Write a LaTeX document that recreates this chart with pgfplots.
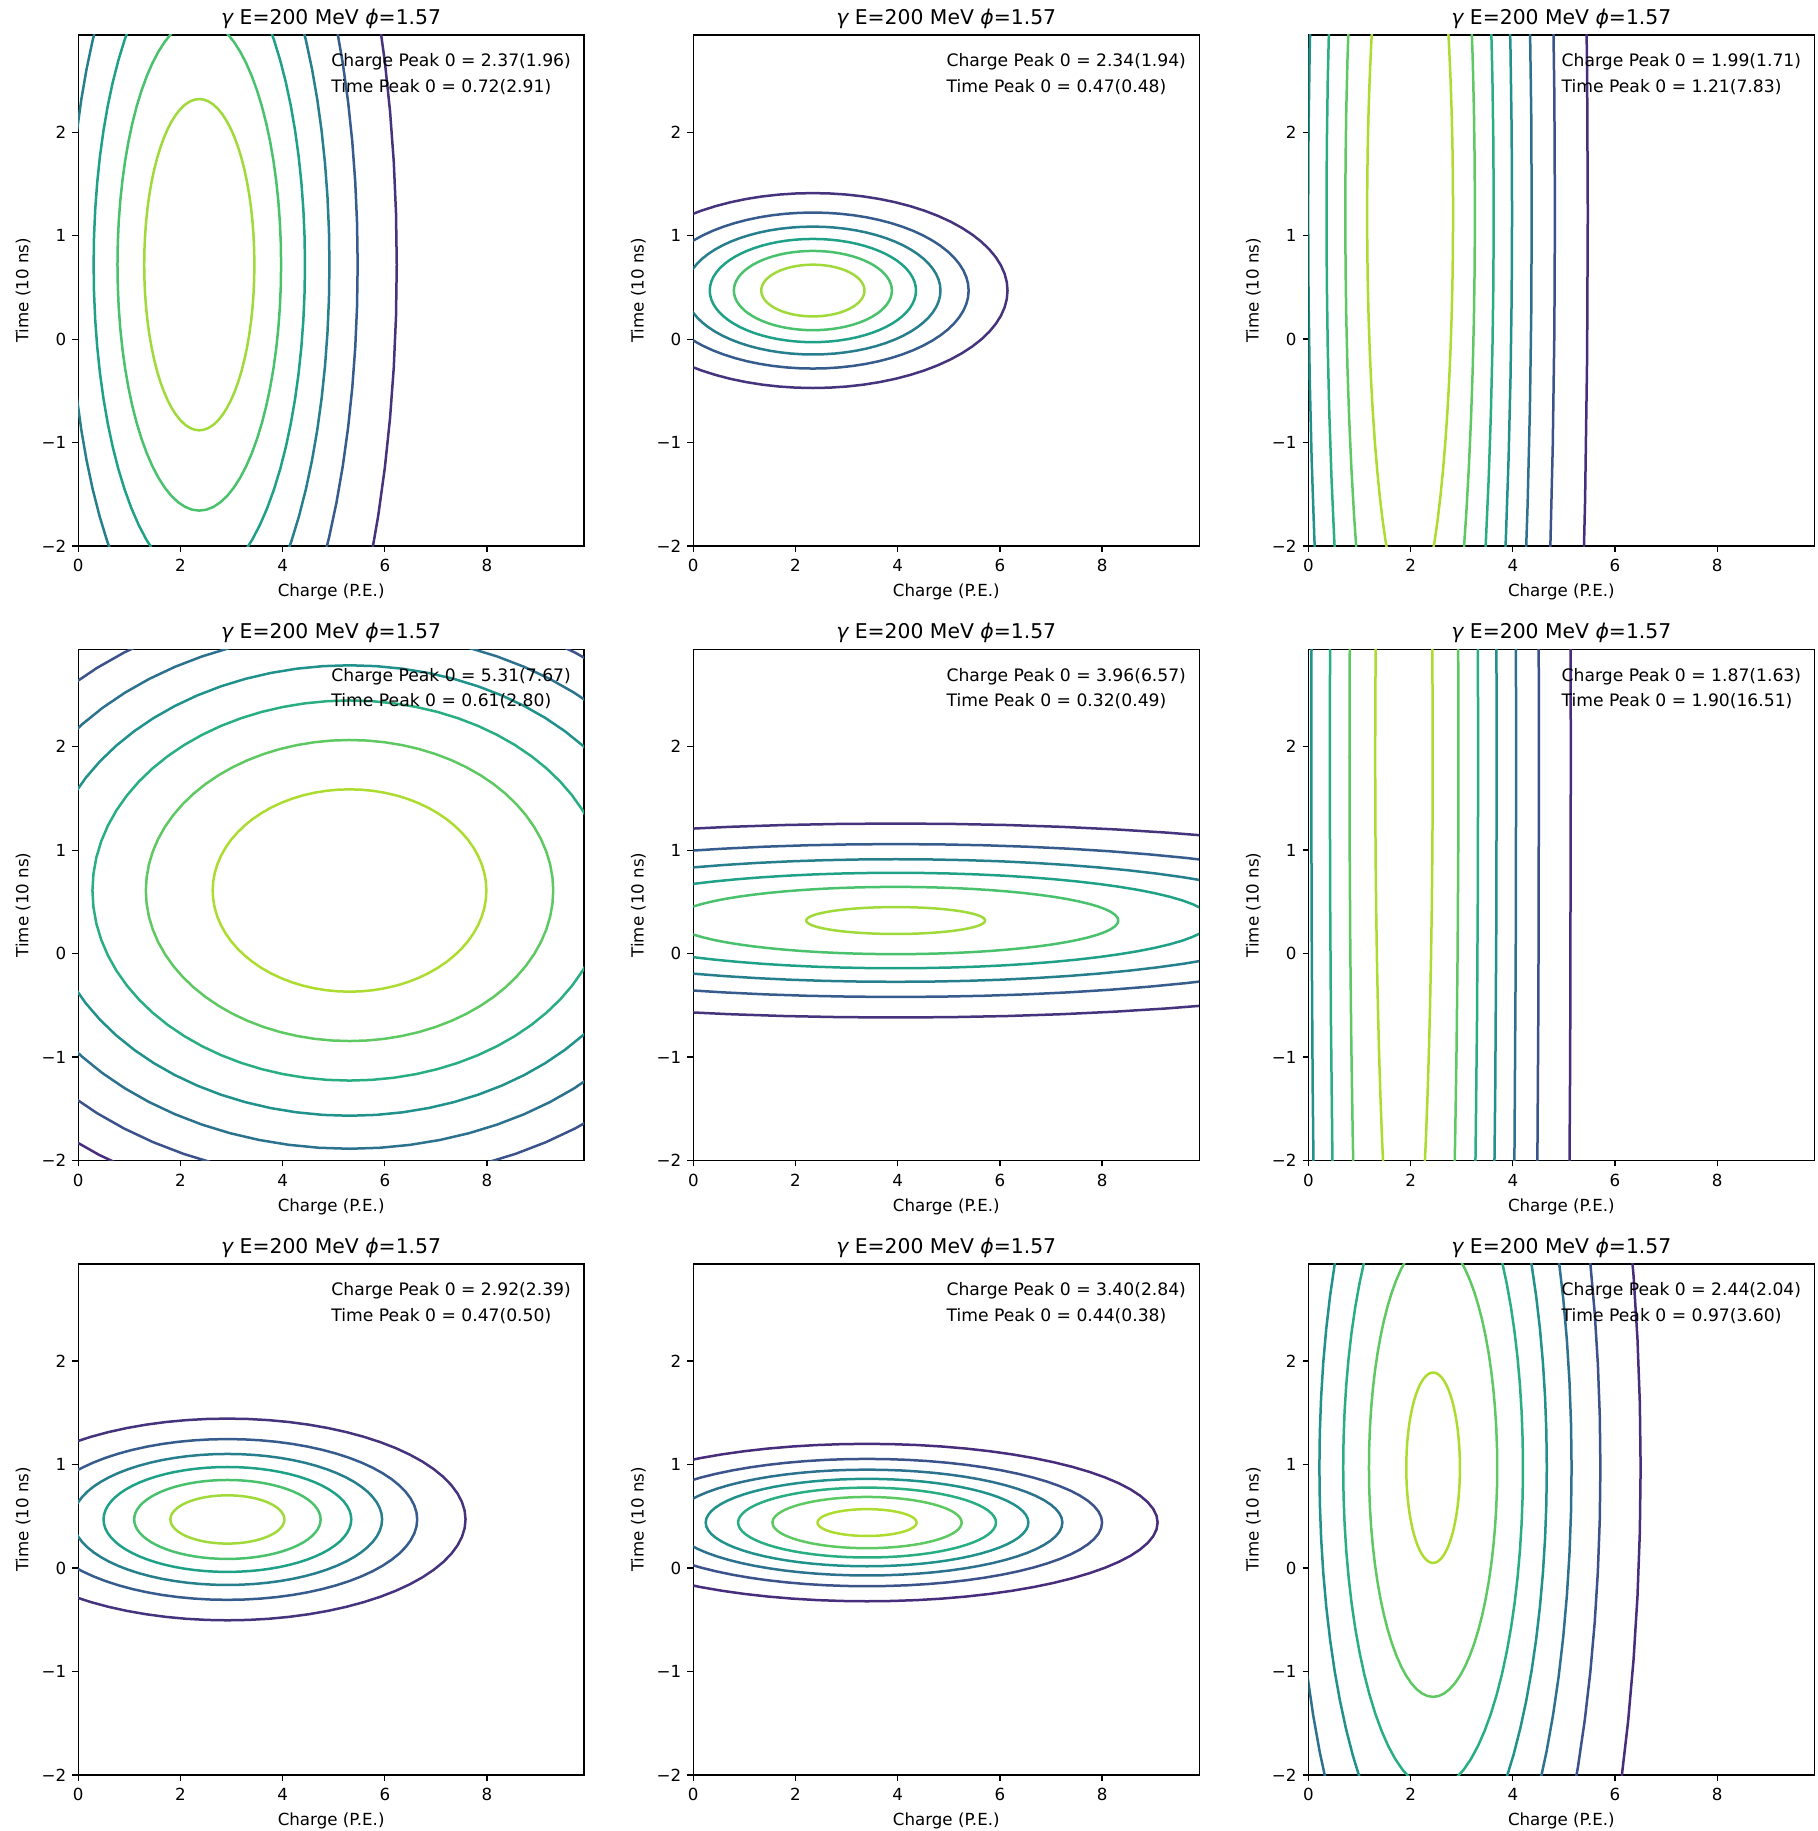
\documentclass[border=0pt]{standalone}
\usepackage{fontspec}
\setmainfont{DejaVu Sans}
\usepackage{pgfplots}
\pgfplotsset{compat=1.18}
\usepackage{pgfplotstable}
\usepgfplotslibrary{groupplots}

% viridis, 8 levels (6 contours drawn)
\definecolor{sA}{HTML}{46337E}
\definecolor{sB}{HTML}{365C8D}
\definecolor{sC}{HTML}{277F8E}
\definecolor{sD}{HTML}{1FA187}
\definecolor{sE}{HTML}{4AC16D}
\definecolor{sF}{HTML}{9FDA3A}
% viridis, 9 levels (7 contours drawn)
\definecolor{eA}{HTML}{472D7B}
\definecolor{eB}{HTML}{3B528B}
\definecolor{eC}{HTML}{2C728E}
\definecolor{eD}{HTML}{21918C}
\definecolor{eE}{HTML}{28AE80}
\definecolor{eF}{HTML}{5EC962}
\definecolor{eG}{HTML}{ADDC30}

% unit circle, 5 degree steps
\pgfplotstableread{
c s
1 0
0.99619 0.08716
0.98481 0.17365
0.96593 0.25882
0.93969 0.34202
0.90631 0.42262
0.86603 0.5
0.81915 0.57358
0.76604 0.64279
0.70711 0.70711
0.64279 0.76604
0.57358 0.81915
0.5 0.86603
0.42262 0.90631
0.34202 0.93969
0.25882 0.96593
0.17365 0.98481
0.08716 0.99619
0 1
-0.08716 0.99619
-0.17365 0.98481
-0.25882 0.96593
-0.34202 0.93969
-0.42262 0.90631
-0.5 0.86603
-0.57358 0.81915
-0.64279 0.76604
-0.70711 0.70711
-0.76604 0.64279
-0.81915 0.57358
-0.86603 0.5
-0.90631 0.42262
-0.93969 0.34202
-0.96593 0.25882
-0.98481 0.17365
-0.99619 0.08716
-1 0
-0.99619 -0.08716
-0.98481 -0.17365
-0.96593 -0.25882
-0.93969 -0.34202
-0.90631 -0.42262
-0.86603 -0.5
-0.81915 -0.57358
-0.76604 -0.64279
-0.70711 -0.70711
-0.64279 -0.76604
-0.57358 -0.81915
-0.5 -0.86603
-0.42262 -0.90631
-0.34202 -0.93969
-0.25882 -0.96593
-0.17365 -0.98481
-0.08716 -0.99619
0 -1
0.08716 -0.99619
0.17365 -0.98481
0.25882 -0.96593
0.34202 -0.93969
0.42262 -0.90631
0.5 -0.86603
0.57358 -0.81915
0.64279 -0.76604
0.70711 -0.70711
0.76604 -0.64279
0.81915 -0.57358
0.86603 -0.5
0.90631 -0.42262
0.93969 -0.34202
0.96593 -0.25882
0.98481 -0.17365
0.99619 -0.08716
1 0
}\unitcircle

% one contour: centre x, centre y, half width, half height, colour
\newcommand{\ctr}[5]{\addplot[#5, line width=1.5pt, line join=round]
  table[x expr={#1+(#3)*\thisrow{c}}, y expr={#2+(#4)*\thisrow{s}}]{\unitcircle};}
\newcommand{\peak}[2]{%
  \node[anchor=base west, inner sep=0pt, font=\fontsize{10.3}{12}\selectfont]
    at (rel axis cs:0.5,0.938) {Charge Peak 0 = #1};
  \node[anchor=base west, inner sep=0pt, font=\fontsize{10.3}{12}\selectfont]
    at (rel axis cs:0.5,0.888) {Time Peak 0 = #2};}

\pgfplotsset{panel/.style={
  scale only axis, width=303.5pt, height=306.6pt,
  xmin=0, xmax=9.9, ymin=-2, ymax=2.94,
  xtick={0,2,4,6,8}, xticklabels={0,2,4,6,8},
  ytick={-2,-1,0,1,2}, yticklabels={−2,−1,0,1,2},
  xtick pos=bottom, ytick pos=left,
  tick align=outside, major tick length=3.5pt,
  every tick/.style={black, line width=0.8pt},
  axis line style={black, line width=0.8pt},
  tick label style={font=\fontsize{10}{12}\selectfont},
  xticklabel style={anchor=base, inner sep=0pt, yshift=-12pt},
  yticklabel style={anchor=east, inner sep=0pt, xshift=-3.5pt},
  xlabel={Charge (P.E.)}, ylabel={Time (10 ns)},
  xlabel style={font=\fontsize{10}{12}\selectfont, inner sep=0pt,
    at={([yshift=-30.5pt]axis description cs:0.5,0)}, anchor=base},
  ylabel style={font=\fontsize{10}{12}\selectfont, inner sep=0pt,
    at={([xshift=-33pt]axis description cs:0,0.5)}, anchor=center},
  title={{\itshape γ} E=200 MeV {\itshape ϕ}=1.57},
  every axis title shift=0pt,
  title style={font=\fontsize{12.2}{14}\selectfont, inner sep=0pt,
    at={([yshift=6.5pt]axis description cs:0.5,1)}, anchor=base},
}}

\begin{document}
\begin{tikzpicture}
\begin{groupplot}[group style={group size=3 by 3, horizontal sep=65.5pt, vertical sep=62pt}, panel]

\nextgroupplot
\coordinate (tl) at (rel axis cs:0,1);
\ctr{2.37}{0.72}{3.864}{5.737}{sA}
\ctr{2.37}{0.72}{3.099}{4.601}{sB}
\ctr{2.37}{0.72}{2.547}{3.782}{sC}
\ctr{2.37}{0.72}{2.068}{3.071}{sD}
\ctr{2.37}{0.72}{1.601}{2.377}{sE}
\ctr{2.37}{0.72}{1.078}{1.601}{sF}
\peak{2.37(1.96)}{0.72(2.91)}

\nextgroupplot
\ctr{2.34}{0.47}{3.809}{0.942}{sA}
\ctr{2.34}{0.47}{3.048}{0.754}{sB}
\ctr{2.34}{0.47}{2.497}{0.618}{sC}
\ctr{2.34}{0.47}{2.018}{0.499}{sD}
\ctr{2.34}{0.47}{1.546}{0.383}{sE}
\ctr{2.34}{0.47}{1.010}{0.250}{sF}
\peak{2.34(1.94)}{0.47(0.48)}

\nextgroupplot
\ctr{1.99}{1.21}{3.477}{15.92}{eA}
\ctr{1.99}{1.21}{2.834}{12.978}{eB}
\ctr{1.99}{1.21}{2.380}{10.896}{eC}
\ctr{1.99}{1.21}{1.995}{9.135}{eD}
\ctr{1.99}{1.21}{1.636}{7.489}{eE}
\ctr{1.99}{1.21}{1.268}{5.808}{eF}
\ctr{1.99}{1.21}{0.841}{3.851}{eG}
\peak{1.99(1.71)}{1.21(7.83)}

\nextgroupplot
\ctr{5.31}{0.61}{8.545}{3.119}{eA}
\ctr{5.31}{0.61}{7.692}{2.808}{eB}
\ctr{5.31}{0.61}{6.838}{2.496}{eC}
\ctr{5.31}{0.61}{5.962}{2.177}{eD}
\ctr{5.31}{0.61}{5.031}{1.837}{eE}
\ctr{5.31}{0.61}{3.986}{1.455}{eF}
\ctr{5.31}{0.61}{2.678}{0.978}{eG}
\peak{5.31(7.67)}{0.61(2.80)}

\nextgroupplot
\ctr{3.96}{0.32}{12.567}{0.9373}{sA}
\ctr{3.96}{0.32}{9.904}{0.7387}{sB}
\ctr{3.96}{0.32}{7.943}{0.5924}{sC}
\ctr{3.96}{0.32}{6.185}{0.4613}{sD}
\ctr{3.96}{0.32}{4.357}{0.325}{sE}
\ctr{3.96}{0.32}{1.75}{0.13}{sF}
\peak{3.96(6.57)}{0.32(0.49)}

\nextgroupplot
\ctr{1.87}{1.90}{3.265}{33.07}{eA}
\ctr{1.87}{1.90}{2.641}{26.75}{eB}
\ctr{1.87}{1.90}{2.195}{22.24}{eC}
\ctr{1.87}{1.90}{1.814}{18.38}{eD}
\ctr{1.87}{1.90}{1.451}{14.70}{eE}
\ctr{1.87}{1.90}{1.066}{10.80}{eF}
\ctr{1.87}{1.90}{0.563}{5.703}{eG}
\peak{1.87(1.63)}{1.90(16.51)}

\nextgroupplot
\ctr{2.92}{0.47}{4.660}{0.9748}{sA}
\ctr{2.92}{0.47}{3.714}{0.777}{sB}
\ctr{2.92}{0.47}{3.027}{0.6332}{sC}
\ctr{2.92}{0.47}{2.424}{0.5071}{sD}
\ctr{2.92}{0.47}{1.824}{0.3816}{sE}
\ctr{2.92}{0.47}{1.115}{0.2333}{sF}
\peak{2.92(2.39)}{0.47(0.50)}

\nextgroupplot
\ctr{3.40}{0.44}{5.686}{0.7608}{eA}
\ctr{3.40}{0.44}{4.599}{0.6153}{eB}
\ctr{3.40}{0.44}{3.822}{0.5114}{eC}
\ctr{3.40}{0.44}{3.157}{0.4224}{eD}
\ctr{3.40}{0.44}{2.523}{0.3376}{eE}
\ctr{3.40}{0.44}{1.851}{0.2477}{eF}
\ctr{3.40}{0.44}{0.9695}{0.1297}{eG}
\peak{3.40(2.84)}{0.44(0.38)}

\nextgroupplot
\coordinate (br) at (rel axis cs:1,0);
\ctr{2.44}{0.97}{4.061}{7.166}{eA}
\ctr{2.44}{0.97}{3.274}{5.778}{eB}
\ctr{2.44}{0.97}{2.710}{4.783}{eC}
\ctr{2.44}{0.97}{2.225}{3.926}{eD}
\ctr{2.44}{0.97}{1.759}{3.104}{eE}
\ctr{2.44}{0.97}{1.255}{2.215}{eF}
\ctr{2.44}{0.97}{0.525}{0.92}{eG}
\peak{2.44(2.04)}{0.97(3.60)}

\end{groupplot}
\path ([xshift=-46.9pt,yshift=21pt]tl) ([xshift=2.1pt,yshift=-33.6pt]br);
\end{tikzpicture}
\end{document}
